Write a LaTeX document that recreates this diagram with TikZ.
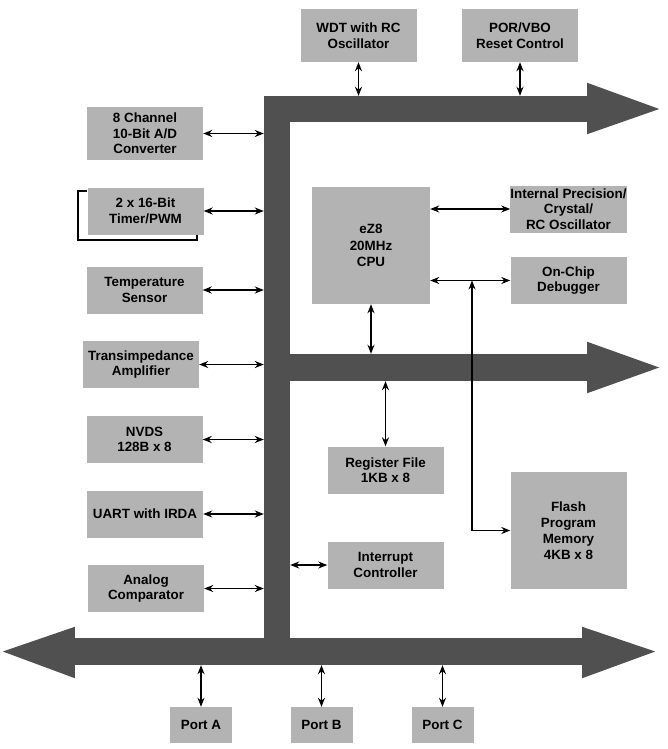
\documentclass[tikz,border=0pt]{standalone}
\usepackage{fontspec}
\setmainfont{Liberation Sans}
\usetikzlibrary{arrows.meta}
\definecolor{boxgray}{RGB}{179,179,179}
\definecolor{busgray}{RGB}{80,80,80}

\begin{document}
\begin{tikzpicture}[
  x=1pt, y=-1pt,
  font=\fontsize{13.4}{15.5}\selectfont\bfseries,
  box/.style={fill=boxgray, inner sep=0pt, align=center, minimum width=116pt, minimum height=47pt},
  tall/.style={box, minimum height=53pt},
  port/.style={box, minimum width=62pt, minimum height=36pt},
  bus/.style={fill=busgray, inner sep=0pt},
  conn/.style={<->, >={Stealth[length=9pt,width=7pt]}, line width=1.4pt},
  brk/.style={line width=1.8pt}
]
\useasboundingbox (0,0) rectangle (668,749);

% buses
\node[bus, minimum width=26pt, minimum height=569pt] (vbus) at (277,380.5) {};
\node[bus, minimum width=323pt, minimum height=26pt] (tbus) at (425.5,109) {};
\node[bus, minimum width=323pt, minimum height=27pt] (mbus) at (425.5,367.5) {};
\node[bus, minimum width=507pt, minimum height=27pt] (bbus) at (328.5,651.5) {};

\fill[busgray] ([yshift=13pt]tbus.north east) -- ([xshift=72pt]tbus.east) -- ([yshift=-12pt]tbus.south east) -- cycle;
\fill[busgray] ([yshift=12pt]mbus.north east) -- ([xshift=72pt]mbus.east) -- ([yshift=-12pt]mbus.south east) -- cycle;
\fill[busgray] ([yshift=11pt]bbus.north east) -- ([xshift=73pt]bbus.east) -- ([yshift=-13pt]bbus.south east) -- cycle;
\fill[busgray] ([yshift=11pt]bbus.north west) -- ([xshift=-72pt]bbus.west) -- ([yshift=-13pt]bbus.south west) -- cycle;

% blocks
\node[tall] (wdt) at (358.5,35.5) {WDT with RC\\Oscillator};
\node[tall] (por) at (520,35.5) {POR/VBO\\Reset Control};

\node[tall] (adc) at (145,133.5) {8 Channel\\10-Bit A/D\\Converter};
\node[box] (tmr) at (145.5,211) {2 x 16-Bit\\Timer/PWM};
\node[box] (tmp) at (144.5,290) {Temperature\\Sensor};
\node[box] (tia) at (141,364.5) {Transimpedance\\Amplifier};
\node[box] (nvds) at (144.5,439.5) {NVDS\\128B x 8};
\node[box] (uart) at (145,514) {UART with IRDA};
\node[box] (cmp) at (146,588.5) {Analog\\Comparator};

\node[box, minimum width=118pt, minimum height=117pt, font=\fontsize{13.4}{16.5}\selectfont\bfseries] (cpu) at (371,245.5) {eZ8\\20MHz\\CPU};
\node[box] (osc) at (568.5,209) {Internal Precision/\\Crystal/\\RC Oscillator};
\node[box] (ocd) at (568.5,280.5) {On-Chip\\Debugger};
\node[box] (reg) at (385.5,470) {Register File\\1KB x 8};
\node[box] (irq) at (385.5,565) {Interrupt\\Controller};
\node[box, minimum height=117pt, font=\fontsize{13.4}{16}\selectfont\bfseries] (flash) at (568.5,530.5) {Flash\\Program\\Memory\\4KB x 8};

\node[port] (pa) at (201,725) {Port A};
\node[port] (pb) at (321.5,725) {Port B};
\node[port] (pc) at (442.5,725) {Port C};

\draw[brk] ([yshift=-4pt]tmr.north west) -- ++(-9,0) |- ([xshift=-7pt, yshift=-5pt]tmr.south east) -- ([xshift=-7pt]tmr.south east);

% connections
\draw[conn] (wdt.south) -- (wdt.south |- tbus.north);
\draw[conn] (por.south) -- (por.south |- tbus.north);

\draw[conn] (adc.east) -- (adc.east -| vbus.west);
\draw[conn] (tmr.east) -- (tmr.east -| vbus.west);
\draw[conn] (tmp.east) -- (tmp.east -| vbus.west);
\draw[conn] (tia.east) -- (tia.east -| vbus.west);
\draw[conn] (nvds.east) -- (nvds.east -| vbus.west);
\draw[conn] (uart.east) -- (uart.east -| vbus.west);
\draw[conn] (cmp.east) -- (cmp.east -| vbus.west);

\draw[conn] (cpu.east |- osc.west) -- (osc.west);
\draw[conn] (cpu.east |- ocd.west) -- (ocd.west);
\draw[conn] (cpu.south) -- (cpu.south |- mbus.north);
\draw[conn] (reg.north) -- (reg.north |- mbus.south);
\draw[conn] (irq.west) -- (irq.west -| vbus.east);

\coordinate (tap) at (472,280.5);
\draw[conn] (tap) |- (flash.west);

\draw[conn] (pa.north) -- (pa.north |- bbus.south);
\draw[conn] (pb.north) -- (pb.north |- bbus.south);
\draw[conn] (pc.north) -- (pc.north |- bbus.south);
\end{tikzpicture}
\end{document}
